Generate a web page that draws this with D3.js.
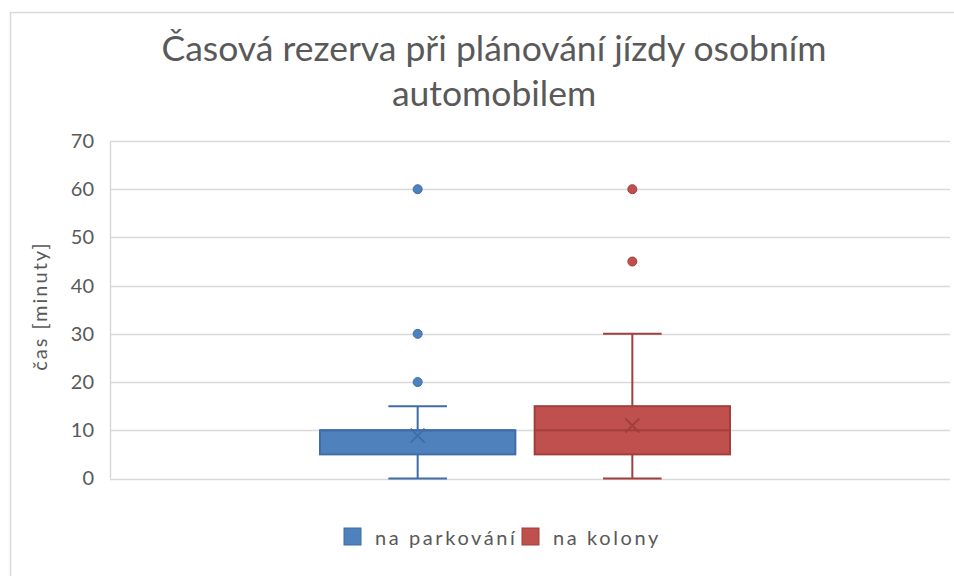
<!DOCTYPE html>
<html>
<head>
<meta charset="utf-8">
<script src="https://cdn.jsdelivr.net/npm/d3@7"></script>
<style>
  body { margin: 0; background: #fff; }
  svg { display: block; font-family: Lato, "Noto Sans", sans-serif; }
</style>
</head>
<body>
<svg id="chart" width="954" height="576"></svg>
<script>
// data
var seriesNames = ["na parkování", "na kolony"];
var seriesFill = ["#4F81BD", "#C0504D"];
var seriesStroke = ["#3F6DA8", "#A03F3C"];
var mins = [0, 0];
var q1s = [5, 5];
var medians = [10, 10];
var q3s = [10, 15];
var maxs = [15, 30];
var means = [8.9, 11];
var outliers = [[20, 30, 60], [45, 60]];
var yTicks = [0, 10, 20, 30, 40, 50, 60, 70];

var svg = d3.select("#chart"),
  margin = { top: 141, right: 4, bottom: 97, left: 110 },
  width = +svg.attr("width"),
  height = +svg.attr("height");

// chart frame (only left + top edges are in the crop)
svg.append("path")
  .attr("d", "M10.5,576 V12.5 H954")
  .attr("fill", "none")
  .attr("stroke", "#D9D9D9")
  .attr("stroke-width", 1.5);

var y = d3.scaleLinear()
  .domain([0, 70])
  .range([height - margin.bottom - 0.5, margin.top]);

var x = d3.scaleBand()
  .domain(seriesNames)
  .range([320, 730])
  .paddingInner(0.09);

// gridlines
svg.append("g")
  .selectAll("line")
  .data(yTicks)
  .enter()
  .append("line")
  .attr("x1", margin.left)
  .attr("x2", width - margin.right)
  .attr("y1", (d) => Math.round(y(d)) + 0.5)
  .attr("y2", (d) => Math.round(y(d)) + 0.5)
  .attr("stroke", "#D9D9D9")
  .attr("stroke-width", 1.5);

svg.append("line")
  .attr("x1", margin.left + 0.5)
  .attr("x2", margin.left + 0.5)
  .attr("y1", y(70))
  .attr("y2", y(0))
  .attr("stroke", "#D9D9D9")
  .attr("stroke-width", 1.5);

// y axis labels
var yAxis = svg.append("g")
  .attr("transform", `translate(${margin.left},0)`)
  .call(d3.axisLeft(y).tickValues(yTicks).tickSize(0).tickPadding(16));
yAxis.select(".domain").remove();
yAxis.selectAll("text")
  .attr("fill", "#595959")
  .attr("font-size", 20)
  .attr("font-family", "Lato, 'Noto Sans', sans-serif");

// title
var title = svg.append("text")
  .attr("text-anchor", "middle")
  .attr("fill", "#595959")
  .attr("font-size", 35.5);
title.append("tspan").attr("x", 494).attr("y", 61).text("Časová rezerva při plánování jízdy osobním");
title.append("tspan").attr("x", 494).attr("y", 106).text("automobilem");

// y axis title
svg.append("text")
  .attr("transform", "translate(47,306) rotate(-90)")
  .attr("text-anchor", "middle")
  .attr("fill", "#595959")
  .attr("font-size", 20)
  .attr("letter-spacing", 2)
  .text("čas [minuty]");

// boxes
seriesNames.forEach(function (name, i) {
  var g = svg.append("g");
  var cx = x(name) + x.bandwidth() / 2;
  var capW = x.bandwidth() * 0.3;

  // whiskers
  g.append("line")
    .attr("x1", cx).attr("x2", cx)
    .attr("y1", y(mins[i])).attr("y2", y(q1s[i]))
    .attr("stroke", seriesStroke[i]).attr("stroke-width", 2);
  g.append("line")
    .attr("x1", cx).attr("x2", cx)
    .attr("y1", y(q3s[i])).attr("y2", y(maxs[i]))
    .attr("stroke", seriesStroke[i]).attr("stroke-width", 2);
  [mins[i], maxs[i]].forEach(function (v) {
    g.append("line")
      .attr("x1", cx - capW / 2).attr("x2", cx + capW / 2)
      .attr("y1", y(v)).attr("y2", y(v))
      .attr("stroke", seriesStroke[i]).attr("stroke-width", 2);
  });

  // box
  g.append("rect")
    .attr("x", x(name))
    .attr("y", y(q3s[i]))
    .attr("width", x.bandwidth())
    .attr("height", y(q1s[i]) - y(q3s[i]))
    .attr("fill", seriesFill[i])
    .attr("stroke", seriesStroke[i])
    .attr("stroke-width", 2);

  // median
  g.append("line")
    .attr("x1", x(name)).attr("x2", x(name) + x.bandwidth())
    .attr("y1", y(medians[i])).attr("y2", y(medians[i]))
    .attr("stroke", seriesStroke[i]).attr("stroke-width", 2);

  // mean marker
  var my = y(means[i]), s = 7;
  g.append("path")
    .attr("d", `M${cx - s},${my - s}L${cx + s},${my + s}M${cx - s},${my + s}L${cx + s},${my - s}`)
    .attr("stroke", seriesStroke[i])
    .attr("stroke-width", 2);

  // outliers
  g.selectAll(".dot")
    .data(outliers[i])
    .enter()
    .append("circle")
    .attr("class", "dot")
    .attr("cx", cx)
    .attr("cy", (d) => y(d))
    .attr("r", 4.5)
    .attr("fill", seriesFill[i])
    .attr("stroke", seriesStroke[i])
    .attr("stroke-width", 1);
});

// legend
var legendX = [344, 522];
seriesNames.forEach(function (name, i) {
  svg.append("rect")
    .attr("x", legendX[i])
    .attr("y", 528)
    .attr("width", 17)
    .attr("height", 17)
    .attr("fill", seriesFill[i])
    .attr("stroke", seriesStroke[i])
    .attr("stroke-width", 1);
  svg.append("text")
    .attr("x", legendX[i] + 31)
    .attr("y", 545)
    .attr("fill", "#595959")
    .attr("font-size", 20)
    .attr("letter-spacing", 2.6)
    .text(name);
});
</script>
</body>
</html>
